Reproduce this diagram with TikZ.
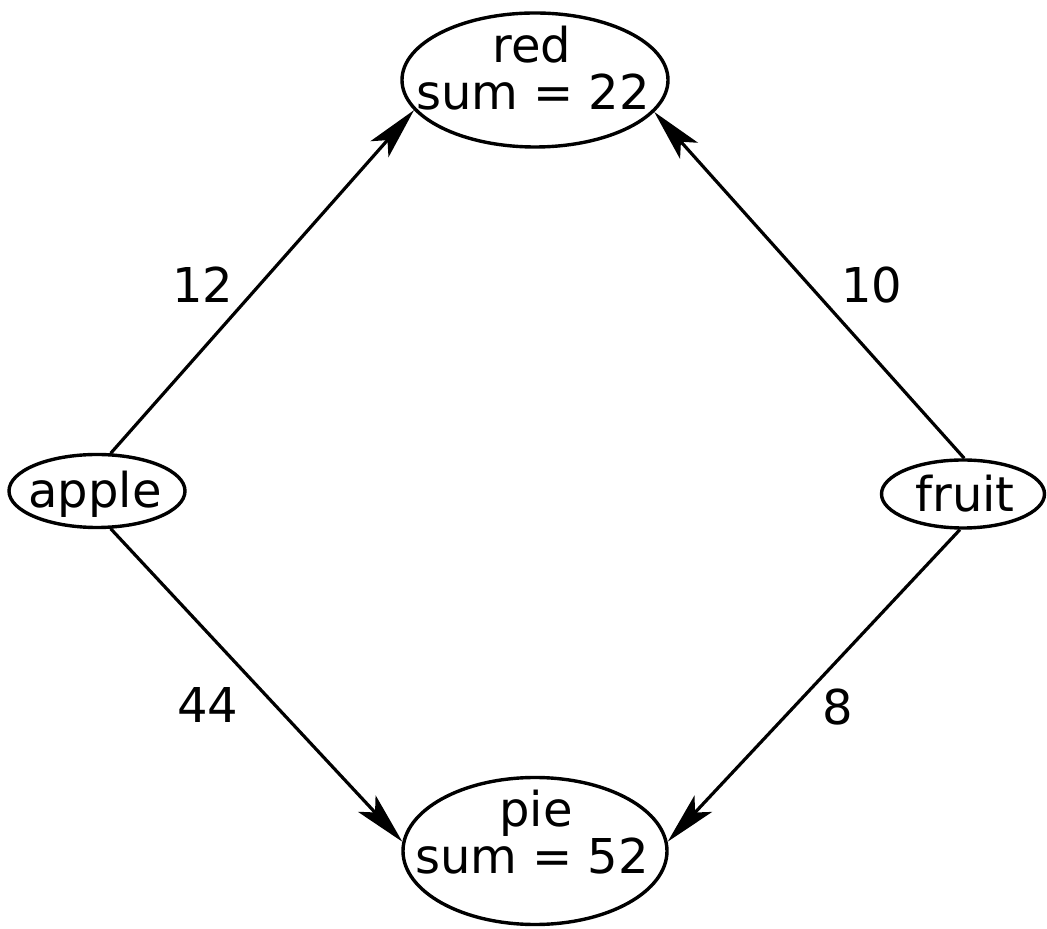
\documentclass[tikz,border=0pt]{standalone}
\usepackage{fontspec}
\setmainfont{DejaVu Sans}
\usetikzlibrary{arrows.meta,shapes.geometric}
\begin{document}
\begin{tikzpicture}[x=1pt,y=1pt,
  ell/.style={ellipse, draw, line width=3.4pt, inner sep=0pt},
  txt/.style={font=\fontsize{48}{48}\selectfont, inner sep=0pt, anchor=base},
  edge/.style={line width=3.2pt, -{Stealth[length=52pt,width=24pt,inset=12pt]}}]
\useasboundingbox[fill=white] (0,0) rectangle (1047,929);
% ellipses
\node[ell, minimum width=266pt, minimum height=134pt] (red) at (535,849) {};
\node[ell, minimum width=264pt, minimum height=147pt] (pie) at (535,78) {};
\node[ell, minimum width=176pt, minimum height=73pt] (apple) at (97,438) {};
\node[ell, minimum width=163pt, minimum height=68pt] (fruit) at (963,435) {};
% texts
\node[txt] (redA) at (532,866) {red};
\node[txt] (redB) at (533,819) {sum = 22};
\node[txt] (pieA) at (536,102) {pie};
\node[txt] (pieB) at (532,55) {sum = 52};
\node[txt] (appleT) at (95,421) {apple};
\node[txt] (fruitT) at (965,417) {fruit};
% edge labels
\node[txt] (l12) at (203,626) {12};
\node[txt] (l10) at (872,626) {10};
\node[txt] (l44) at (208,206) {44};
\node[txt] (l8) at (838,204) {8};
% edges
\draw[edge] (apple.70) -- (red.194);
\draw[edge] (fruit.88) -- (red.345);
\draw[edge] (apple.290) -- (pie.176);
\draw[edge] (fruit.265) -- (pie.4);
\end{tikzpicture}
\end{document}
